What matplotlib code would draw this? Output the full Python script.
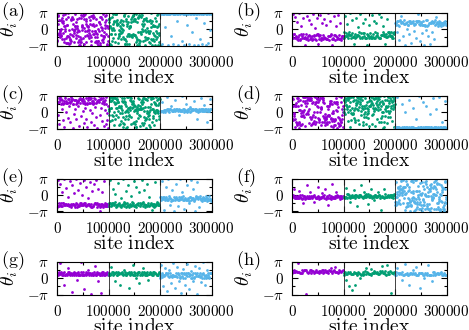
import matplotlib
matplotlib.use('Agg')
import matplotlib.pyplot as plt
import numpy as np

plt.rcParams['mathtext.fontset'] = 'cm'
plt.rcParams['font.family'] = 'serif'
plt.rcParams['font.serif'] = ['DejaVu Serif']

COLORS = ['#9400d3', '#009e73', '#56b4e9']
PANEL_LABELS = ['(a)', '(b)', '(c)', '(d)', '(e)', '(f)', '(g)', '(h)']
SEG_EDGES = [0, 100000, 200000, 300000]
XTICKS = [0, 100000, 200000, 300000]

# theta_i, given as percent of the range [-pi, pi]
# (0 = -pi, 100 = pi); one list per 100000-site segment
a_purple = [14, 15, 92, 65, 35, 89, 79, 32, 38, 46, 26, 43, 38, 32, 79, 50, 28, 84, 19, 71, 69, 39, 93, 75, 10, 58,
            20, 97, 49, 44, 59, 23, 7, 81, 64, 6, 28, 62, 8, 99, 86, 28, 3, 48, 25, 34, 21, 17, 6, 79, 82, 14, 80, 86,
            51, 32, 82, 30, 66, 47, 9, 38, 44, 60, 95, 50, 58, 22, 31, 72, 53, 59, 40, 81, 28, 48, 11, 17, 45, 2, 84,
            10, 27, 1, 93, 85, 21, 10, 55, 59, 64, 46, 22, 94, 89, 54, 93, 3, 81, 96, 44, 28, 81, 9, 75, 66, 59, 33,
            44, 61, 28, 47, 56, 48, 23, 37, 86, 78, 31, 65, 27, 12, 1, 90, 91, 45, 64, 85, 66, 92, 34, 60, 34, 86, 10,
            45, 43, 26, 64, 82, 13, 39, 36, 7, 26, 2, 49, 14, 12, 73, 72, 45, 87, 0, 66, 6, 31, 55, 88, 17, 48, 81, 52,
            9, 20, 96, 28, 29, 25, 40, 91, 71, 53, 64, 36, 78, 92, 59, 3, 60, 1, 13, 30, 53]
a_green = [71, 82, 81, 82, 84, 59, 4, 52, 35, 36, 2, 87, 47, 13, 52, 66, 24, 97, 75, 72, 47, 9, 36, 99, 95, 95, 74, 96,
           69, 67, 62, 77, 24, 7, 66, 30, 35, 35, 47, 59, 45, 71, 38, 21, 78, 52, 51, 66, 42, 74, 27, 46, 63, 91, 93,
           20, 3, 5, 99, 21, 81, 74, 13, 59, 66, 29, 4, 35, 72, 90, 3, 34, 29, 52, 60, 59, 56, 30, 73, 81, 32, 32, 86,
           27, 94, 34, 90, 76, 32, 33, 82, 98, 80, 75, 31, 95, 25, 10, 19, 1, 15, 73, 83, 41, 87, 93, 7, 2, 15, 40, 89,
           14, 99, 34, 88, 41, 67, 50, 92, 44, 76, 14, 60, 66, 80, 82, 26, 48, 0, 16, 84, 77, 41, 18, 53, 74, 23, 45,
           44, 24, 37, 10, 75, 39, 7, 77, 44, 99, 20, 69, 55, 17, 2, 76, 18, 38, 60, 62, 61, 33, 13, 84, 58, 30, 0, 75,
           20, 44, 93, 38, 26, 56, 2, 97, 60, 67, 37, 11, 32, 0]
a_blue = [99, 97, 99, 3, 97, 95, 98, 96, 55, 97, 98, 97, 1, 95, 96, 95, 98, 30, 98, 98, 95, 4, 97, 98, 96, 98, 75, 97,
          97, 0, 98, 98, 95, 98, 12, 98, 96, 95, 2, 97, 98, 99, 62, 95, 95, 99, 5, 95, 96, 99, 40, 98, 97, 1, 96, 99,
          97, 85, 95, 98, 2, 97, 99, 20, 96, 98, 3, 95, 97, 70, 98, 99, 0, 96, 97, 8, 98, 95, 48, 99, 97]

b_purple = [28, 34, 95, 22, 34, 34, 88, 22, 30, 26, 72, 18, 16, 26, 99, 32, 20, 16, 60, 34, 30, 24, 83, 34, 24, 24, 2,
            26, 34, 20, 91, 22, 16, 30, 77, 32, 18, 28, 66, 24, 16, 28, 97, 20, 32, 28, 54, 20, 16, 32, 85, 34, 34, 32,
            3, 28, 20, 32, 93, 16, 22, 24, 70, 32, 20, 26, 80, 22, 24, 20, 62, 18, 18, 30, 98, 16, 28, 30, 75, 34, 32,
            20, 1, 18, 24, 32, 89, 16, 32, 28, 58, 26, 18, 22, 94, 20, 32, 20, 68, 22, 16, 28, 28, 24, 30]
b_green = [22, 40, 28, 90, 38, 30, 30, 65, 34, 22, 40, 32, 99, 32, 22, 32, 78, 38, 26, 26, 3, 28, 24, 36, 26, 85, 32,
           28, 32, 57, 40, 30, 22, 95, 38, 24, 26, 38, 70, 30, 38, 24, 82, 24, 24, 36, 1, 30, 32, 22, 62, 26, 38, 30,
           24, 92, 22, 26, 36, 22, 75, 24, 40, 28, 68, 38, 32, 26, 97, 24, 24, 22, 88, 32, 32, 32, 40, 60, 34, 30, 30,
           4, 34, 26, 26, 80, 40, 30, 38, 40, 32, 30, 40, 28, 22, 28, 38, 24, 40, 34]
b_blue = [68, 68, 64, 40, 76, 76, 62, 60, 15, 78, 74, 70, 90, 72, 72, 70, 28, 78, 66, 66, 2, 68, 68, 72, 50, 62, 64, 76,
          35, 68, 74, 70, 8, 72, 68, 76, 45, 64, 66, 66, 22, 74, 76, 72, 95, 74, 76, 66, 12, 62, 72, 70, 38, 64, 74,
          62, 0, 64, 60, 62, 48, 78, 60, 78, 30, 62, 68, 70, 5, 72, 68, 76, 42, 70, 72, 72, 18, 78, 64, 66, 88, 68, 72,
          60, 66, 68, 76, 72, 62, 60, 68, 70, 68, 66, 64, 72, 72, 68, 76, 64]

c_purple = [77, 81, 40, 81, 93, 12, 81, 87, 97, 75, 89, 60, 79, 87, 25, 75, 79, 5, 83, 93, 98, 77, 83, 50, 77, 79, 33,
            89, 81, 68, 89, 79, 18, 83, 85, 96, 91, 89, 2, 75, 75, 45, 87, 87, 58, 75, 87, 28, 81, 77, 70, 85, 85, 8,
            91, 91, 99, 77, 89, 37, 83, 91, 52, 91, 77, 15, 85, 79, 64, 75, 93, 30, 79, 75, 3, 93, 87, 96, 79, 91, 55,
            79, 93, 20, 79, 85, 47, 83, 75, 10, 93, 77, 66, 89, 77, 35, 85, 81, 0, 87, 83, 98, 81, 87, 42, 89, 91, 62,
            93, 79, 22, 85, 93, 6, 75, 81, 57, 87, 75, 97, 14, 48, 27, 69, 1]
c_green = [41, 59, 53, 58, 97, 93, 23, 84, 62, 64, 83, 27, 95, 88, 41, 97, 93, 99, 37, 51, 82, 9, 74, 94, 92, 30, 78,
           40, 62, 86, 89, 98, 62, 80, 34, 82, 53, 11, 70, 67, 98, 48, 65, 13, 23, 64, 70, 93, 84, 46, 55, 5, 82, 17,
           35, 94, 12, 84, 81, 74, 50, 28, 2, 70, 38, 52, 5, 55, 96, 62, 29, 95, 49, 38, 64, 42, 88, 97, 56, 65, 93,
           34, 12, 84, 75, 64, 82, 78, 67, 83, 16, 52, 71, 19, 14, 56, 56, 69, 23, 3, 61, 4, 54, 66, 48, 33, 93, 60,
           72, 60, 91, 41, 37, 58, 70, 6, 60, 63, 58, 81, 74, 88, 15, 92, 9, 62, 82, 92, 54, 17, 36, 67, 89, 25, 90, 0,
           33, 30, 54, 88, 46, 65, 38, 46, 95, 41, 51, 9, 30, 57, 3, 65, 75, 95, 91, 95, 92, 18, 61, 38, 32, 61, 93,
           10, 51, 54, 80, 74, 46, 79, 96, 27, 56, 73, 51, 88, 57, 52, 72, 48, 91, 79, 38, 30, 94, 91]
c_blue = [51, 52, 52, 54, 80, 54, 51, 57, 54, 51, 57, 55, 60, 95, 60, 53, 51, 55, 58, 58, 70, 57, 53, 52, 54, 60, 55,
          52, 88, 55, 58, 61, 57, 52, 40, 61, 55, 52, 57, 52, 52, 99, 58, 51, 61, 55, 54, 54, 75, 51, 57, 59, 53, 59,
          51, 65, 54, 58, 57, 59, 57, 61, 85, 57, 61, 52, 61, 57, 30, 54, 51, 61, 53, 52, 92, 60, 58, 52, 52, 59, 54,
          72, 60, 52, 61, 54, 20, 53, 58, 52, 52, 90, 59, 61]

d_purple = [70, 93, 28, 70, 91, 27, 44, 37, 47, 4, 72, 30, 69, 69, 77, 20, 93, 10, 14, 16, 92, 83, 68, 19, 2, 55, 15,
            10, 86, 57, 46, 37, 72, 11, 12, 52, 38, 97, 84, 42, 50, 56, 95, 36, 96, 77, 7, 85, 44, 99, 69, 96, 79, 46,
            86, 44, 54, 90, 59, 87, 93, 16, 36, 88, 92, 30, 9, 87, 93, 12, 77, 36, 17, 82, 15, 42, 49, 99, 22, 95, 76,
            35, 14, 82, 20, 82, 69, 89, 51, 93, 66, 80, 33, 18, 25, 28, 86, 93, 98, 49, 64, 65, 10, 58, 20, 93, 92, 39,
            82, 94, 88, 79, 33, 20, 36, 25, 9, 44, 31, 17, 30, 12, 38, 19, 70, 68, 41, 61, 40, 39, 70, 19, 83, 76, 79,
            32, 6, 83, 28, 23, 76, 46, 48, 4, 29, 53, 11, 80, 23, 28, 78, 25, 9, 81, 94, 55, 81, 53, 1, 75, 67, 17, 36,
            13, 32, 6, 98, 11, 25, 9, 96, 18, 18, 81, 59, 30, 41, 69, 3, 51]
d_green = [59, 88, 88, 51, 93, 45, 80, 72, 73, 86, 67, 58, 94, 22, 87, 92, 49, 98, 92, 68, 5, 82, 57, 27, 96, 48, 98,
           44, 63, 46, 44, 96, 84, 87, 56, 33, 62, 27, 19, 78, 88, 72, 95, 61, 79, 26, 93, 84, 57, 99, 66, 12, 90, 75,
           81, 53, 97, 40, 69, 86, 62, 9, 21, 60, 99, 35, 43, 69, 94, 49, 63, 14, 34, 73, 81, 43, 64, 46, 31, 52, 61,
           83, 69, 8, 88, 70, 70, 76, 83, 96, 42, 78, 14, 92, 71, 45, 63, 54, 90, 61, 92, 63, 7, 78, 94, 58, 83, 71,
           30, 96, 65, 89, 55, 74, 18, 91, 82, 60, 98, 68, 31, 20, 85, 38, 50, 51, 1, 74, 77, 4, 18, 98, 61, 87, 39,
           69, 65, 52, 67, 15, 88, 95, 70, 35, 54, 47, 85, 77, 52, 93, 36, 70, 87, 62, 99, 80, 24, 73, 95, 59, 84, 3,
           67, 90, 76]
d_blue = [2, 3, 2, 4, 95, 2, 4, 0, 4, 2, 1, 0, 75, 4, 1, 0, 4, 3, 0, 50, 0, 3, 1, 4, 0, 4, 88, 1, 1, 3, 0, 0, 3, 62, 4,
          1, 0, 0, 2, 30, 0, 0, 4, 2, 2, 99, 4, 0, 3, 2, 2, 82, 3, 1, 1, 3, 4, 4, 70, 3, 1, 3, 2, 4, 45, 2, 3, 3, 1, 2,
          92, 0, 4, 4, 2, 3, 58, 2, 1, 3, 1, 2, 97, 4, 4, 0, 1, 20, 1, 3, 4, 1, 85, 4, 0]

e_purple = [18, 13, 97, 15, 15, 27, 85, 19, 27, 15, 60, 16, 27, 25, 99, 18, 18, 22, 72, 24, 18, 18, 45, 22, 16, 19, 92,
            19, 13, 22, 80, 21, 22, 22, 55, 19, 18, 13, 98, 25, 22, 13, 66, 16, 15, 18, 88, 27, 19, 27, 50, 19, 22, 18,
            95, 27, 21, 27, 75, 16, 19, 21, 40, 24, 18, 24, 90, 15, 13, 24, 62, 13, 16, 15, 83, 24, 27, 25, 96, 22, 13,
            27, 70, 19, 18, 24, 2, 13, 16, 24, 58, 24, 13, 21, 93, 18, 27, 16, 15, 24, 15, 24, 22, 16]
e_green = [25, 16, 26, 95, 23, 16, 26, 19, 70, 26, 23, 19, 28, 52, 14, 20, 16, 19, 88, 22, 26, 17, 19, 40, 14, 19, 20,
           23, 99, 17, 28, 22, 26, 62, 14, 16, 26, 19, 80, 14, 22, 20, 17, 48, 28, 20, 25, 20, 92, 16, 19, 17, 14, 75,
           23, 22, 26, 19, 58, 17, 26, 23, 23, 97, 26, 17, 28, 22, 66, 14, 20, 20, 19, 85, 16, 19, 26, 17, 44, 19, 22,
           26, 20, 3, 22, 17, 14, 23, 90, 16, 22, 19, 23, 28, 20, 25, 19, 20]
e_blue = [45, 35, 44, 92, 41, 44, 38, 5, 45, 35, 41, 75, 44, 36, 39, 98, 35, 47, 41, 20, 42, 38, 33, 65, 35, 36, 45, 2,
          42, 35, 44, 85, 38, 39, 36, 15, 45, 35, 38, 99, 38, 45, 41, 60, 47, 35, 36, 8, 39, 41, 35, 80, 36, 42, 38,
          25, 33, 45, 44, 95, 36, 38, 41, 70, 42, 36, 33, 1, 39, 47, 44, 90, 41, 38, 45, 12, 42, 47, 39, 35, 38, 33,
          41, 45, 36, 42, 39, 35, 47, 41, 42, 33, 36, 39, 47, 35, 39, 38, 33]

f_purple = [46, 49, 43, 46, 70, 41, 40, 42, 48, 40, 41, 47, 62, 40, 49, 43, 42, 49, 39, 25, 40, 48, 46, 39, 45, 42, 80,
            47, 41, 42, 46, 40, 40, 58, 47, 43, 41, 48, 46, 49, 30, 43, 42, 41, 45, 40, 75, 46, 43, 39, 40, 41, 43, 55,
            45, 47, 47, 42, 49, 68, 42, 39, 45, 46, 41, 20, 49, 40, 41, 48, 39, 43, 85, 40, 45, 41, 46, 42, 48, 60, 43,
            49, 48, 47, 43, 46, 39, 42, 47, 43, 41, 46]
f_green = [43, 44, 42, 43, 72, 43, 52, 42, 52, 51, 44, 42, 30, 46, 44, 49, 45, 43, 48, 65, 42, 49, 51, 48, 46, 15, 43,
           49, 44, 51, 49, 80, 48, 44, 43, 42, 48, 60, 49, 45, 52, 45, 46, 22, 52, 44, 48, 51, 43, 70, 46, 42, 48, 44,
           43, 35, 51, 49, 44, 43, 46, 58, 48, 50, 49, 42, 46, 5, 43, 48, 45, 44, 42, 68, 52, 43, 44, 45, 46, 48, 49,
           44, 46, 50, 51, 43, 50, 45, 46, 42, 52, 50]
f_blue = [18, 28, 18, 28, 45, 90, 45, 23, 53, 60, 28, 74, 71, 35, 26, 62, 49, 77, 57, 24, 70, 93, 69, 99, 59, 57, 49,
          66, 96, 76, 27, 72, 40, 76, 63, 3, 53, 54, 75, 94, 57, 13, 82, 17, 85, 25, 16, 64, 27, 42, 74, 66, 39, 19,
          32, 0, 30, 59, 92, 18, 17, 41, 35, 96, 62, 90, 43, 57, 29, 0, 33, 42, 95, 26, 5, 95, 63, 7, 38, 13, 23, 28,
          62, 79, 43, 49, 7, 63, 23, 38, 29, 88, 7, 53, 19, 52, 51, 1, 90, 11, 57, 38, 34, 18, 79, 30, 70, 21, 54, 8,
          91, 49, 93, 48, 84, 16, 75, 9, 24, 47, 61, 46, 6, 68, 8, 22, 64, 80, 1, 68, 47, 74, 11, 85, 37, 42, 34, 54,
          42, 43, 71, 7, 53, 90, 77, 74, 49, 92, 6, 95, 51, 70, 27, 61, 83, 86, 6, 26, 13, 31, 38, 45, 83, 0, 7, 52, 4,
          49, 33, 82, 65, 60, 29, 76, 6, 73, 71, 13, 20, 7, 0, 93, 28, 70, 91, 27, 44, 37]

g_purple = [66, 67, 59, 68, 62, 95, 63, 66, 69, 60, 61, 67, 68, 30, 60, 61, 62, 63, 60, 69, 80, 68, 62, 60, 63, 67, 59,
            8, 62, 65, 69, 61, 66, 67, 61, 45, 65, 59, 68, 60, 62, 61, 99, 69, 63, 61, 59, 68, 15, 60, 62, 61, 69, 67,
            63, 75, 66, 60, 66, 65, 59, 2, 62, 67, 61, 59, 68, 88, 63, 60, 61, 68, 66, 40, 62, 67, 59, 61, 66, 5, 60,
            68, 62, 69, 61, 60, 65, 63, 62, 67, 68, 59]
g_green = [61, 65, 63, 60, 85, 62, 68, 69, 61, 62, 66, 66, 40, 69, 60, 59, 67, 68, 62, 65, 30, 66, 67, 63, 69, 61, 62,
           75, 63, 68, 59, 60, 65, 62, 67, 20, 68, 61, 62, 69, 66, 63, 90, 61, 60, 68, 66, 60, 50, 59, 67, 69, 65, 68,
           35, 59, 62, 63, 61, 68, 62, 80, 69, 67, 61, 60, 65, 69, 59, 45, 63, 62, 68, 67, 66, 62, 61, 68, 59, 69, 67,
           66, 65, 63, 59, 61, 60, 62, 67, 68]
g_blue = [57, 51, 90, 59, 67, 53, 25, 61, 59, 55, 80, 59, 65, 67, 10, 63, 67, 55, 75, 53, 55, 65, 35, 57, 61, 53, 95,
          61, 57, 55, 20, 55, 65, 55, 85, 53, 63, 67, 40, 59, 49, 53, 5, 65, 65, 57, 78, 51, 67, 63, 30, 51, 61, 67,
          92, 55, 67, 67, 15, 55, 63, 59, 72, 51, 49, 59, 42, 65, 53, 49, 88, 67, 63, 57, 2, 67, 57, 57, 82, 59, 67,
          53, 38, 55, 49, 63, 99, 65, 51, 61, 28, 57, 49, 61, 76, 53, 65, 61, 53, 49, 65, 67, 67, 65]

h_purple = [66, 69, 70, 75, 68, 72, 69, 95, 70, 68, 67, 67, 74, 66, 73, 74, 76, 75, 2, 68, 67, 70, 75, 66, 75, 73, 72,
            67, 69, 68, 75, 68, 69, 66, 73, 73, 70, 74, 66, 76, 69, 75, 70, 70, 73, 66, 76, 72, 72, 82, 66, 72, 75, 85,
            68, 68, 69, 67, 74, 68, 72, 69, 72, 76]
h_green = [65, 61, 70, 62, 45, 63, 70, 65, 25, 70, 62, 62, 12, 62, 69, 65, 30, 67, 61, 63, 70, 65, 62, 50, 61, 63, 69,
           61, 62, 71, 64, 82, 70, 67, 63, 62, 62, 61, 78, 67, 67, 67, 71, 68, 65, 65, 68, 63, 63, 71, 65, 70, 71, 88,
           67, 65, 71, 64, 61, 90, 64, 70, 62, 71, 3, 68, 65, 65, 63, 70]
h_blue = [59, 58, 68, 80, 66, 64, 65, 65, 64, 45, 68, 61, 61, 62, 92, 62, 65, 59, 60, 30, 67, 62, 66, 64, 75, 65, 62,
          67, 60, 85, 61, 61, 66, 67, 20, 65, 66, 67, 61, 50, 59, 65, 64, 60, 66, 90, 59, 60, 58, 59, 40, 68, 58, 68,
          59, 62, 64, 65, 62, 67, 64, 65, 65, 68, 60, 61, 62, 65, 58, 61]

PANEL_DATA = [
    [a_purple, a_green, a_blue],
    [b_purple, b_green, b_blue],
    [c_purple, c_green, c_blue],
    [d_purple, d_green, d_blue],
    [e_purple, e_green, e_blue],
    [f_purple, f_green, f_blue],
    [g_purple, g_green, g_blue],
    [h_purple, h_green, h_blue],
]

fig = plt.figure(figsize=(4.69, 3.30), dpi=100)

lefts = [57, 292]
tops = [13, 96, 179, 262]
W, H = 154.5, 32.5

for i in range(len(PANEL_DATA)):
    row, col = divmod(i, 2)
    ax = fig.add_axes([lefts[col] / 469., 1 - (tops[row] + H) / 330., W / 469., H / 330.])
    for k, vals in enumerate(PANEL_DATA[i]):
        x = np.linspace(SEG_EDGES[k], SEG_EDGES[k + 1], len(vals), endpoint=False)
        # percent of the axis range -> radians
        y = -np.pi + (np.array(vals) + 0.5) * 2 * np.pi / 100.0
        ax.scatter(x, y, s=4, color=COLORS[k], linewidths=0, marker='o', zorder=2)

    # segment boundaries
    for xb in SEG_EDGES[1:3]:
        ax.axvline(xb, color='#222222', lw=0.6, zorder=3)

    ax.set_xlim(0, 300000)
    ax.set_ylim(-np.pi, np.pi)
    ax.set_xticks(XTICKS)
    ax.set_xticklabels(['$%d$' % t for t in XTICKS])
    ax.set_xticks([50000, 150000, 250000], minor=True)
    ax.set_yticks([-np.pi, 0, np.pi])
    ax.set_yticklabels([r'$-\pi$', r'$0$', r'$\pi$'])
    ax.set_yticks([-np.pi / 2, np.pi / 2], minor=True)
    ax.tick_params(which='both', direction='in', top=True, right=True, width=0.8, labelsize=10.8)
    ax.tick_params(which='major', length=4)
    ax.tick_params(which='minor', length=2.5)
    ax.tick_params(axis='x', pad=7)
    ax.tick_params(axis='y', pad=6)
    for sp in ax.spines.values():
        sp.set_linewidth(0.8)
        sp.set_zorder(4)

    ax.set_xlabel(r'$\mathrm{site\ index}$', fontsize=14, labelpad=-1)
    ax.set_ylabel(r'$\theta_i$', fontsize=14)
    ax.yaxis.set_label_coords(-0.24, 0.5)
    ax.text(-0.365, 1.04, r'$\mathrm{' + PANEL_LABELS[i] + '}$', transform=ax.transAxes,
            ha='left', va='center', fontsize=13)

fig.savefig('out.png', dpi=100)
